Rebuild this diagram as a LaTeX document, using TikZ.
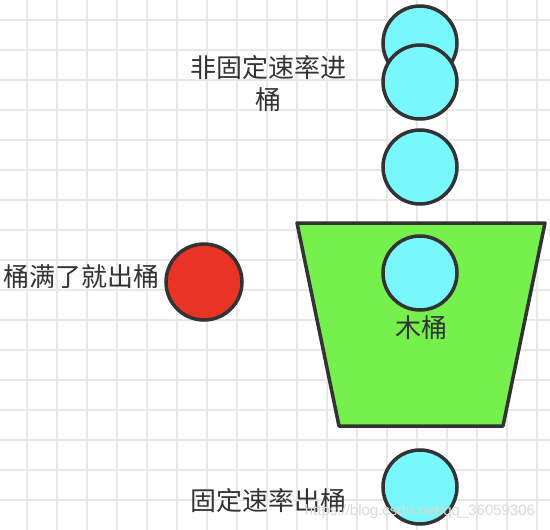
\documentclass[tikz,border=0pt]{standalone}
\usepackage{fontspec}
\setmainfont{Noto Sans CJK SC}
\newfontfamily\markfont{Liberation Sans}
\usetikzlibrary{calc}
\definecolor{ballcyan}{HTML}{78F8FC}
\definecolor{bucketgreen}{HTML}{76F04C}
\definecolor{ballred}{HTML}{E83325}
\definecolor{inkgray}{HTML}{333333}
\definecolor{gridgray}{HTML}{E8E8E8}

\tikzset{
  gridline/.style={gridgray, line width=1.5pt},
  ball/.style={draw=inkgray, line width=3.5pt},
  label/.style={inkgray, inner sep=0pt, font=\fontsize{26pt}{32pt}\selectfont}
}

\begin{document}
\begin{tikzpicture}[x=1pt,y=-1pt]
        \useasboundingbox[fill=white] (0,0) rectangle (550,530);
        % background grid
        \foreach \gx in {27,57,...,537} \draw[gridline] (\gx,0) -- (\gx,530);
        \foreach \gy in {20,50,...,500} \draw[gridline] (0,\gy) -- (550,\gy);
        % balls coming in
        \filldraw[ball, fill=ballcyan] (420,43) circle[radius=37pt];
        \filldraw[ball, fill=ballcyan] (420,82) circle[radius=37pt];
        \filldraw[ball, fill=ballcyan] (420,167) circle[radius=37pt];
        \node[label, align=center] (inrate) at (268,84) {非固定速率进\\桶};
        % the bucket
        \filldraw[draw=inkgray, fill=bucketgreen, line width=3.5pt, line join=round]
            (297,223) coordinate (tl) -- (545,223) coordinate (tr)
            -- (503,426) coordinate (br) -- (339,426) coordinate (bl) -- cycle;
        \filldraw[ball, fill=ballcyan] (420,273) circle[radius=37pt];
        \node[label] (bucket) at (421,328) {木桶};
        % overflow
        \filldraw[ball, fill=ballred] (204,282) circle[radius=38pt];
        \node[label] (overflow) at (82,277) {桶满了就出桶};
        % ball going out
        \filldraw[ball, fill=ballcyan] (420,487) circle[radius=37pt];
        \node[label] (outrate) at (268,501) {固定速率出桶};
        \node[gray!30, inner sep=0pt, font=\markfont\fontsize{15pt}{18pt}\selectfont] (mark) at (420,512) {https://blog.csdn.net/qq\_36059306};
    \end{tikzpicture}
\end{document}
